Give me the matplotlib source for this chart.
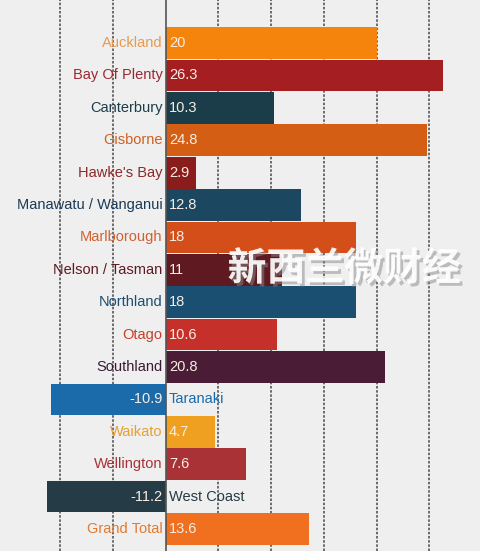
import matplotlib
matplotlib.use('Agg')
import matplotlib.pyplot as plt
import matplotlib.patheffects as pe

# Data
regions = ['Auckland', 'Bay Of Plenty', 'Canterbury', 'Gisborne', "Hawke's Bay",
           'Manawatu / Wanganui', 'Marlborough', 'Nelson / Tasman', 'Northland',
           'Otago', 'Southland', 'Taranaki', 'Waikato', 'Wellington', 'West Coast',
           'Grand Total']
values = [20, 26.3, 10.3, 24.8, 2.9, 12.8, 18, 11, 18, 10.6, 20.8, -10.9, 4.7, 7.6, -11.2, 13.6]
value_labels = ['20', '26.3', '10.3', '24.8', '2.9', '12.8', '18', '11', '18', '10.6',
                '20.8', '-10.9', '4.7', '7.6', '-11.2', '13.6']
colors = ['#F5840C', '#A51E22', '#1B3D49', '#D45F14', '#8B1C1C', '#1B4760', '#D44E1A',
          '#5E1A20', '#1B4F72', '#C6302A', '#4A1C35', '#1B6BAA', '#F0A020', '#A83236',
          '#253B45', '#F07020']
label_colors = ['#E89A50', '#9A2A30', '#1B3D49', '#D06020', '#8B2A2A', '#1B3A55', '#D06030',
                '#5E1A20', '#1B4F72', '#C6402A', '#3A1A30', '#1B6BAA', '#E8A030', '#A83236',
                '#253B45', '#E07A30']
grid_ticks = [-10, -5, 5, 10, 15, 20, 25]

bg = '#EFEFEF'
font = ['Liberation Sans', 'DejaVu Sans']

fig = plt.figure(figsize=(4.8, 5.51), dpi=100, facecolor=bg)
ax = fig.add_axes([0, 0, 1, 1], facecolor=bg)

for g in grid_ticks:
    ax.axvline(g, color='#555555', lw=1.2, ls=(0, (1.5, 1)), zorder=0)
ax.axvline(0, color='#555555', lw=1.2, zorder=3)

y = list(range(len(regions)))
ax.barh(y, values, height=0.98, color=colors, zorder=2)

for i, (name, v, vl, lc) in enumerate(zip(regions, values, value_labels, label_colors)):
    if v >= 0:
        ax.text(-0.3, i, name, ha='right', va='center', fontsize=10.5, color=lc, family=font)
        ax.text(0.3, i, vl, ha='left', va='center', fontsize=10.5, color='#F8EDE4', family=font, zorder=4)
    else:
        ax.text(-0.3, i, vl, ha='right', va='center', fontsize=10.5, color='#F8EDE4', family=font, zorder=4)
        ax.text(0.3, i, name, ha='left', va='center', fontsize=10.5, color=lc, family=font)

ax.set_xlim(-15.7, 29.8)
ax.set_ylim(15.68, -1.33)
ax.axis('off')

# watermark
fig.text(0.717, 0.512, '新西兰微财经', ha='center', va='center', fontsize=28, weight='bold',
         color='white', alpha=0.92, family=['Noto Sans CJK SC', 'DejaVu Sans'],
         path_effects=[pe.withSimplePatchShadow(offset=(2, -2), shadow_rgbFace='#888888', alpha=0.5)])

fig.savefig('out.png', dpi=100, facecolor=bg)
